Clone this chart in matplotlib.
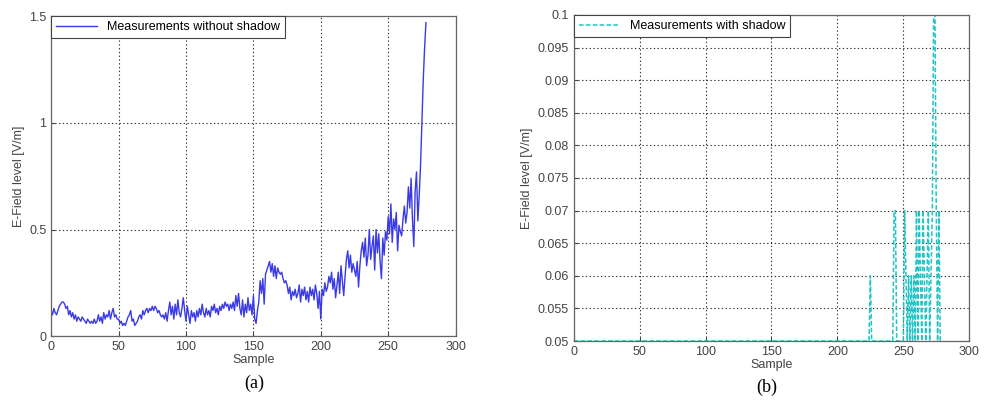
import numpy as np
import matplotlib.pyplot as plt

# E-field without shadow (samples 0..278)
no_shadow = [
    0.12, 0.10, 0.13, 0.11, 0.10, 0.12, 0.14, 0.15, 0.16, 0.16,
    0.15, 0.13, 0.14, 0.10, 0.12, 0.09, 0.11, 0.08, 0.10, 0.07,
    0.09, 0.08, 0.07, 0.09, 0.08, 0.07, 0.06, 0.08, 0.07, 0.06,
    0.07, 0.06, 0.08, 0.06, 0.07, 0.10, 0.07, 0.09, 0.06, 0.11,
    0.08, 0.10, 0.09, 0.12, 0.08, 0.11, 0.13, 0.09, 0.10, 0.08,
    0.08, 0.06, 0.07, 0.05, 0.06, 0.05, 0.07, 0.09, 0.10, 0.12,
    0.07, 0.08, 0.05, 0.06, 0.07, 0.09, 0.10, 0.08, 0.12, 0.10,
    0.12, 0.13, 0.11, 0.13, 0.12, 0.14, 0.12, 0.14, 0.13, 0.11,
    0.12, 0.10, 0.09, 0.10, 0.08, 0.11, 0.07, 0.12, 0.16, 0.10,
    0.14, 0.08, 0.15, 0.10, 0.17, 0.11, 0.09, 0.13, 0.18, 0.12,
    0.07, 0.14, 0.10, 0.06, 0.12, 0.09, 0.11, 0.07, 0.12, 0.09,
    0.13, 0.10, 0.15, 0.11, 0.09, 0.13, 0.10, 0.12, 0.09, 0.14,
    0.12, 0.15, 0.11, 0.13, 0.10, 0.14, 0.12, 0.15, 0.13, 0.16,
    0.14, 0.15, 0.12, 0.15, 0.13, 0.16, 0.12, 0.19, 0.14, 0.20,
    0.13, 0.10, 0.17, 0.09, 0.15, 0.11, 0.18, 0.12, 0.15, 0.10,
    0.19, 0.08, 0.06, 0.12, 0.16, 0.26, 0.20, 0.27, 0.15, 0.29,
    0.31, 0.33, 0.35, 0.30, 0.34, 0.28, 0.33, 0.27, 0.32, 0.30,
    0.29, 0.30, 0.27, 0.25, 0.26, 0.24, 0.20, 0.23, 0.17, 0.21,
    0.19, 0.22, 0.18, 0.20, 0.24, 0.16, 0.22, 0.19, 0.23, 0.17,
    0.21, 0.16, 0.23, 0.19, 0.22, 0.17, 0.24, 0.20, 0.13, 0.21,
    0.08, 0.22, 0.19, 0.25, 0.21, 0.23, 0.28, 0.25, 0.30, 0.22,
    0.27, 0.18, 0.24, 0.30, 0.20, 0.33, 0.26, 0.19, 0.28, 0.36,
    0.40, 0.32, 0.38, 0.30, 0.34, 0.31, 0.28, 0.35, 0.23, 0.33,
    0.40, 0.44, 0.37, 0.46, 0.33, 0.38, 0.50, 0.36, 0.42, 0.47,
    0.31, 0.50, 0.39, 0.48, 0.35, 0.27, 0.46, 0.38, 0.49, 0.45,
    0.56, 0.48, 0.62, 0.44, 0.55, 0.50, 0.58, 0.40, 0.52, 0.49,
    0.47, 0.55, 0.61, 0.53, 0.58, 0.70, 0.60, 0.74, 0.55, 0.42,
    0.68, 0.77, 0.54, 0.66, 0.80, 1.00, 1.20, 1.35, 1.47,
]

# E-field with shadow: 0.05 floor up to sample 224, then spikes
shadow_tail = [
    0.06, 0.05, 0.05, 0.05, 0.05, 0.05, 0.05, 0.05, 0.05, 0.05,
    0.05, 0.05, 0.05, 0.05, 0.05, 0.05, 0.05, 0.05, 0.07, 0.07,
    0.05, 0.05, 0.05, 0.05, 0.05, 0.05, 0.07, 0.06, 0.05, 0.06,
    0.05, 0.06, 0.05, 0.06, 0.05, 0.07, 0.05, 0.07, 0.06, 0.05,
    0.07, 0.06, 0.05, 0.06, 0.07, 0.05, 0.06, 0.07, 0.10, 0.10,
    0.07, 0.05, 0.07, 0.05,
]
shadow = [0.05] * 225 + shadow_tail

plt.rcParams['font.family'] = ['Liberation Sans', 'DejaVu Sans']

fig = plt.figure(figsize=(9.84, 4.05), dpi=100)
ax1 = fig.add_axes([0.052, 0.170, 0.411, 0.790])
ax2 = fig.add_axes([0.583, 0.158, 0.402, 0.805])

ax1.plot(np.arange(len(no_shadow)), no_shadow, color='#3a3ae6', lw=1.0,
         label='Measurements without shadow')
ax1.set_xlim(0, 300)
ax1.set_ylim(0, 1.5)
ax1.set_xticks(range(0, 301, 50))
ax1.set_yticks([0, 0.5, 1, 1.5])
ax1.set_yticklabels(['0', '0.5', '1', '1.5'])

ax2.plot(np.arange(len(shadow)), shadow, color='#20c4c4', lw=1.1, ls='--',
         dashes=(3, 1.5), label='Measurements with shadow')
ax2.set_xlim(0, 300)
ax2.set_ylim(0.05, 0.1)
ax2.set_xticks(range(0, 301, 50))
ax2.set_yticks(np.arange(0.05, 0.1001, 0.005))
ax2.set_yticklabels(['0.05', '0.055', '0.06', '0.065', '0.07', '0.075',
                     '0.08', '0.085', '0.09', '0.095', '0.1'])

for ax in (ax1, ax2):
    ax.grid(True, color='#333333', ls=(0, (1.2, 2.2)), lw=0.8)
    ax.tick_params(direction='in', labelsize=9, colors='#444444', length=3)
    for s in ax.spines.values():
        s.set_color('#666666')
        s.set_linewidth(0.9)
    ax.set_xlabel('Sample', fontsize=9, color='#444444', labelpad=1)
    ax.set_ylabel('E-Field level [V/m]', fontsize=9, color='#444444', labelpad=3)
    leg = ax.legend(loc='upper left', fontsize=9, borderaxespad=0, fancybox=False,
                    framealpha=1, handlelength=3.3, borderpad=0.4)
    leg.get_frame().set_edgecolor('#444444')
    leg.get_frame().set_linewidth(0.8)

fig.text(0.258, 0.042, '(a)', fontsize=13, family='Liberation Serif', ha='center')
fig.text(0.779, 0.033, '(b)', fontsize=13, family='Liberation Serif', ha='center')

fig.savefig('out.png', dpi=100)
